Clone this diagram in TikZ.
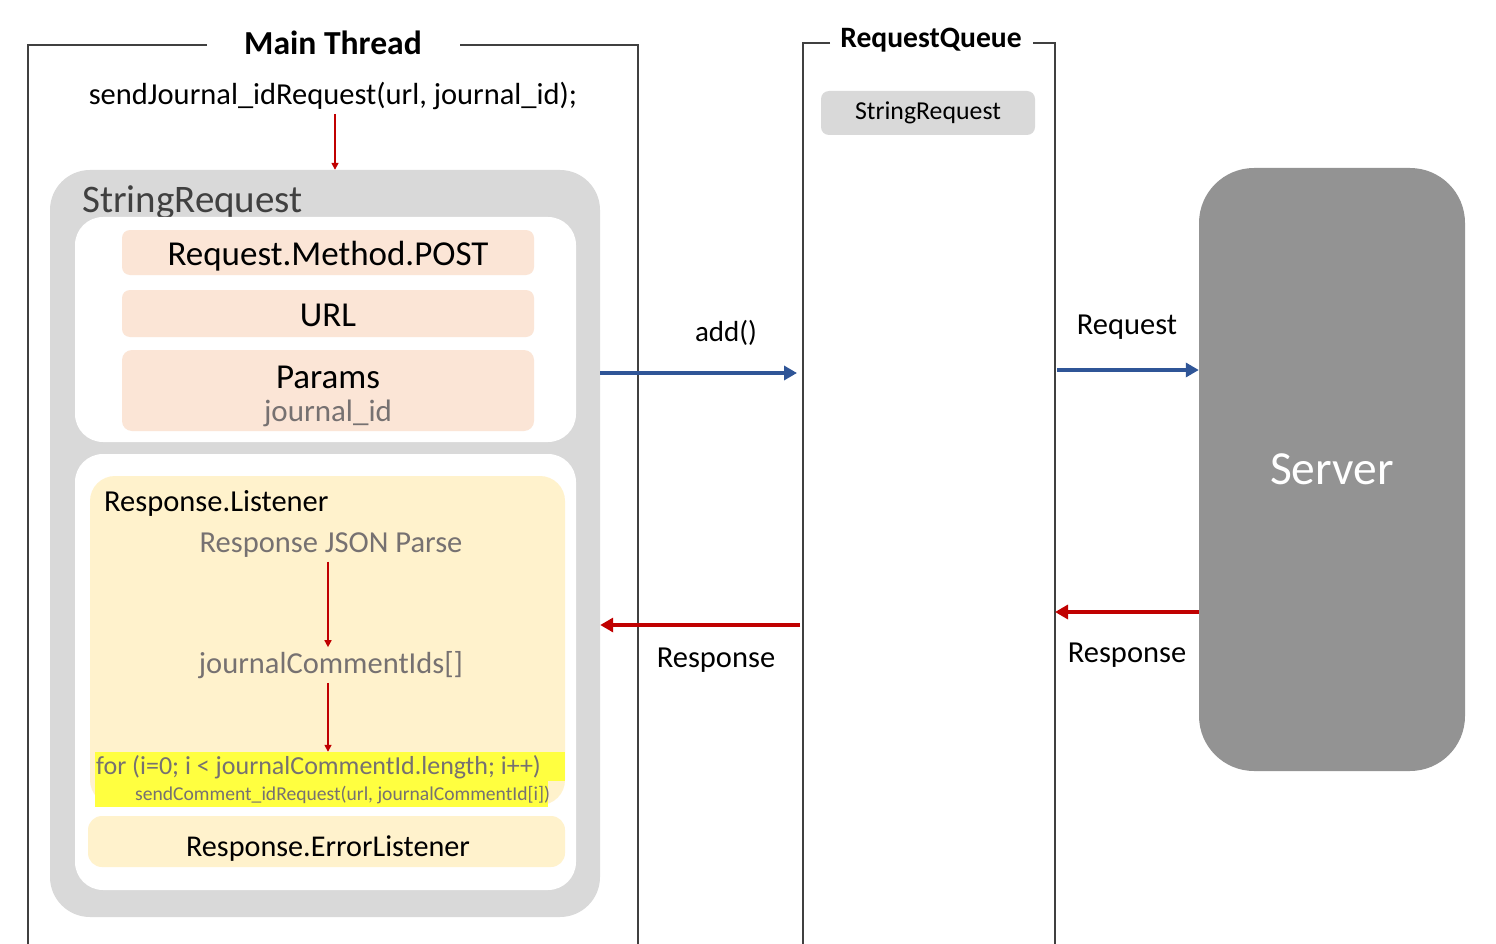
\documentclass[tikz,border=0pt]{standalone}
\usepackage{fontspec}
\setmainfont{Carlito}
\usetikzlibrary{arrows.meta,positioning}
\definecolor{boxgray}{HTML}{D9D9D9}
\definecolor{peach}{HTML}{FBE5D6}
\definecolor{cream}{HTML}{FFF2CC}
\definecolor{hlyellow}{HTML}{FFFF40}
\definecolor{txtgray}{HTML}{767171}
\definecolor{framegray}{HTML}{404040}
\definecolor{servergray}{HTML}{939393}
\definecolor{arrblue}{HTML}{2F5597}
\definecolor{arrred}{HTML}{C00000}

\begin{document}
\begin{tikzpicture}[
    x=1pt, y=-1pt,
    panel/.style={rectangle, inner sep=0pt, fill=#1},
    frame/.style={draw=framegray, line width=1.8pt},
    title/.style={inner sep=0pt, font=\fontsize{33.6}{34}\selectfont\bfseries},
    txt/.style={inner sep=4pt, font=\fontsize{30.5}{31}\selectfont},
    big/.style={font=\fontsize{35}{33}\selectfont},
    callarr/.style={-{Triangle[length=7pt,width=7pt]}, draw=arrred, line width=1.6pt},
    sendarr/.style={-{Triangle[length=13pt,width=14pt]}, draw=arrblue, line width=4pt},
    backarr/.style={-{Triangle[length=13pt,width=14pt]}, draw=arrred, line width=4pt},
  ]
    \useasboundingbox (0,0) rectangle (1496,944);

    % lanes
    \draw[frame] (207,45) -- (28,45) -- (28,944);
    \draw[frame] (460,45) -- (638,45) -- (638,944);
    \node[title] (mainttl) at (333,43) {Main Thread};
    \draw[frame] (830,43) -- (803,43) -- (803,944);
    \draw[frame] (1033,43) -- (1055,43) -- (1055,944);
    \node[title, font=\fontsize{29.6}{30}\selectfont\bfseries] (queuettl) at (931,40) {RequestQueue};

    % main thread
    \node[txt] (send) at (333,96) {sendJournal\_idRequest(url, journal\_id);};
    \node[panel=boxgray, rounded corners=40pt, minimum width=550pt, minimum height=747pt] (strreq) at (325,543.5) {};
    \node[inner sep=0pt, anchor=base west, text=framegray, font=\fontsize{39}{39}\selectfont] (strreqttl) at (82,213) {StringRequest};

    \node[panel=white, rounded corners=28pt, minimum width=501pt, minimum height=225pt] (reqbox) at (325.5,329.5) {};
    \node[panel=peach, rounded corners=8pt, minimum width=412pt, minimum height=45pt] (method) at (328,252.5) {};
    \node[inner sep=0pt, anchor=base, big] (methodtxt) at (328,265) {Request.Method.POST};
    \node[panel=peach, rounded corners=8pt, minimum width=412pt, minimum height=47pt] (url) at (328,313.5) {};
    \node[inner sep=0pt, anchor=base, big] (urltxt) at (328,326) {URL};
    \node[panel=peach, rounded corners=10pt, minimum width=412pt, minimum height=81pt] (params) at (328,390.5) {};
    \node[inner sep=0pt, anchor=base, big] (paramstxt) at (328,388) {Params};
    \node[inner sep=0pt, anchor=base, text=txtgray, font=\fontsize{31}{31}\selectfont] (paramval) at (328,421) {journal\_id};

    \node[panel=white, rounded corners=28pt, minimum width=501pt, minimum height=436pt] (respbox) at (325.5,672) {};
    \node[panel=cream, rounded corners=25pt, minimum width=475pt, minimum height=329pt] (listener) at (327.5,640.5) {};
    \node[inner sep=0pt, anchor=base west, font=\fontsize{30.5}{31}\selectfont] (listenerttl) at (104,511) {Response.Listener};
    \node[txt, text=txtgray] (jsonparse) at (331,545) {Response JSON Parse};
    \node[txt, text=txtgray] (ids) at (331,665) {journalCommentIds[]};
    \node[panel=hlyellow, minimum width=470pt, minimum height=29pt] (forhl) at (330,766.5) {};
    \node[panel=hlyellow, minimum width=453pt, minimum height=26pt] (callhl) at (321.5,794) {};
    \node[inner sep=0pt, anchor=west, text=txtgray, font=\fontsize{26}{26}\selectfont] (forln) at (96,767) {for (i=0; i < journalCommentId.length; i++)};
    \node[inner sep=0pt, anchor=west, text=txtgray, font=\fontsize{19.6}{20}\selectfont] (callln) at (135,795) {sendComment\_idRequest(url, journalCommentId[i])};
    \node[panel=cream, rounded corners=14pt, minimum width=477pt, minimum height=51pt] (errlistener) at (326.5,841.5) {};
    \node[inner sep=0pt, anchor=base, font=\fontsize{30.2}{31}\selectfont] (errtxt) at (328,856) {Response.ErrorListener};

    \draw[callarr] (send.south -| 335,0) -- (strreq.north -| 335,0);
    \draw[callarr] (jsonparse.south -| 328,0) -- (ids.north -| 328,0);
    \draw[callarr] (ids.south -| 328,0) -- (forhl.north -| 328,0);

    % request queue
    \node[panel=boxgray, rounded corners=8pt, minimum width=214pt, minimum height=44pt, font=\fontsize{25.8}{26}\selectfont] (queuereq) at (928,113) {StringRequest};

    % server
    \node[panel=servergray, rounded corners=55pt, minimum width=266pt, minimum height=603pt, text=white, font=\fontsize{47.5}{48}\selectfont] (server) at (1332,469.5) {Server};

    % connectors
    \coordinate (addend) at (797,373);
    \coordinate (respstart) at (800,625);
    \coordinate (reqstart) at (1057,370);
    \coordinate (srvresp) at (1055,612);
    \draw[sendarr] (strreq.east |- addend) -- (addend);
    \draw[backarr] (respstart) -- (strreq.east |- respstart);
    \draw[sendarr] (reqstart) -- (server.west |- reqstart);
    \draw[backarr] (server.west |- srvresp) -- (srvresp);
    \node[txt, font=\fontsize{29}{30}\selectfont] (addlbl) at (726,333) {add()};
    \node[txt] (resplbl) at (716,660) {Response};
    \node[txt] (reqlbl) at (1127,327) {Request};
    \node[txt] (srvresplbl) at (1127,655) {Response};
\end{tikzpicture}
\end{document}
